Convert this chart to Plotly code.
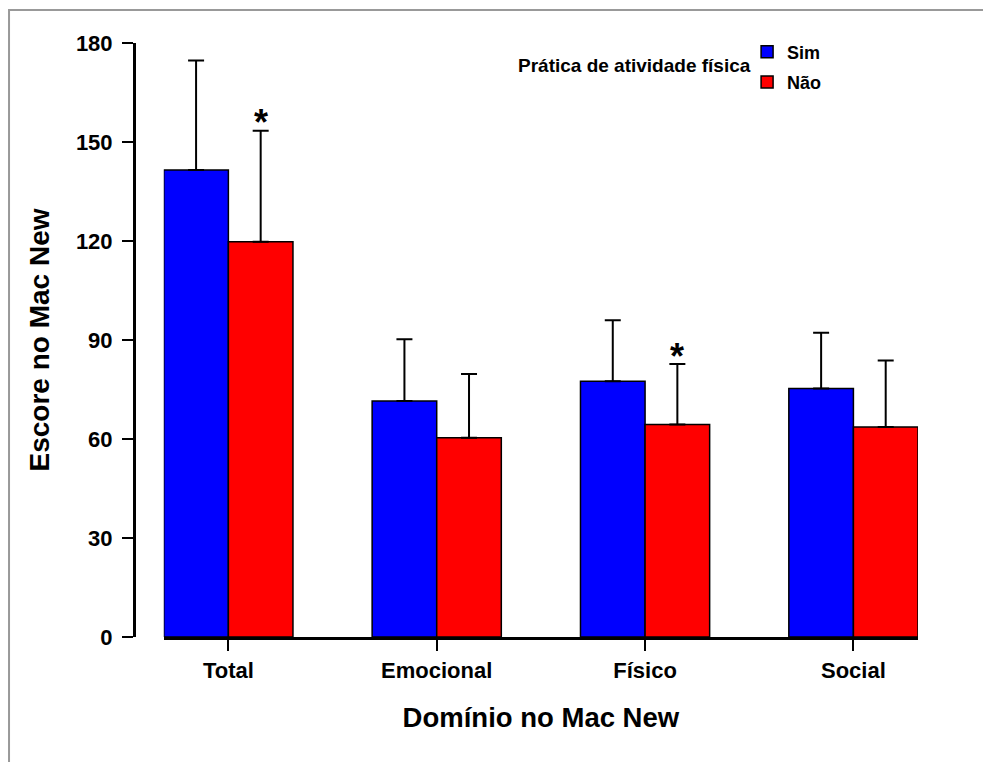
import plotly.graph_objects as go

categories = ["Total", "Emocional", "Físico", "Social"]
sim_values = [141.5, 71.5, 77.5, 75.3]
nao_values = [119.8, 60.4, 64.4, 63.6]
sim_err = [33.2, 18.7, 18.5, 16.9]
nao_err = [33.6, 19.3, 18.3, 20.2]
nao_significant = [True, False, True, False]
y_ticks = [0, 30, 60, 90, 120, 150, 180]

FONT = "Liberation Sans, Arial, sans-serif"

fig = go.Figure()
fig.add_trace(go.Bar(
    name="Sim", x=categories, y=sim_values,
    marker=dict(color="#0000FF", line=dict(color="black", width=1.5)),
    error_y=dict(type="data", array=sim_err, arrayminus=[0] * len(sim_err),
                 symmetric=False, color="black", thickness=2, width=8),
    legendgroup="sim",
))
fig.add_trace(go.Bar(
    name="Não", x=categories, y=nao_values,
    marker=dict(color="#FF0000", line=dict(color="black", width=1.5)),
    error_y=dict(type="data", array=nao_err, arrayminus=[0] * len(nao_err),
                 symmetric=False, color="black", thickness=2, width=8),
    legendgroup="nao",
))

# significance asterisks above the "Não" error bars
for i, sig in enumerate(nao_significant):
    if sig:
        fig.add_annotation(
            x=i + 0.155, y=nao_values[i] + nao_err[i], xref="x", yref="y",
            text="*", showarrow=False, yanchor="middle", yshift=8,
            font=dict(family=FONT, size=36, color="black", weight="bold"),
        )

# legend title placed left of the legend entries
fig.add_annotation(
    x=0.789, y=0.962, xref="paper", yref="paper", xanchor="right", yanchor="middle",
    text="Prática de atividade física", showarrow=False,
    font=dict(family=FONT, size=19, color="black", weight="bold"),
)

# outer frame
fig.add_shape(type="rect", xref="paper", yref="paper",
              x0=-0.1594, y0=-0.5, x1=1.3, y1=1.0556,
              line=dict(color="#999999", width=2), layer="below")

fig.update_layout(
    width=983, height=762,
    margin=dict(l=134, r=65, t=43, b=125, autoexpand=False),
    paper_bgcolor="white", plot_bgcolor="white",
    barmode="group", bargap=0.38, bargroupgap=0,
    font=dict(family=FONT, color="black", size=20, weight="bold"),
    showlegend=True,
    legend=dict(x=0.782, y=1.016, xanchor="left", yanchor="top",
                font=dict(family=FONT, size=18, color="black", weight="bold"),
                bgcolor="rgba(0,0,0,0)", tracegroupgap=4, itemwidth=30),
    xaxis=dict(
        domain=[0.038, 1], range=[-0.31, 3.31], anchor="y",
        showline=True, linecolor="black", linewidth=3,
        ticks="outside", ticklen=11, tickwidth=2, tickcolor="black",
        showgrid=False, zeroline=False,
        tickfont=dict(family=FONT, size=22, color="black", weight="bold"),
        ticklabelstandoff=1,
        title=dict(text="Domínio no Mac New", standoff=26,
                   font=dict(family=FONT, size=27.5, color="black", weight="bold")),
    ),
    yaxis=dict(
        range=[0, 180], tickvals=y_ticks, anchor="free", position=0,
        showline=True, linecolor="black", linewidth=3,
        ticks="outside", ticklen=11, tickwidth=2, tickcolor="black",
        showgrid=False, zeroline=False,
        tickfont=dict(family=FONT, size=22, color="black", weight="bold"),
        ticklabelstandoff=5,
        title=dict(text="Escore no Mac New", standoff=17,
                   font=dict(family=FONT, size=28, color="black", weight="bold")),
    ),
)

fig.write_html("out.html", config={"displayModeBar": False})

# remove the browser's default page margin so the figure sits at (0, 0)
with open("out.html", encoding="utf-8") as f:
    html = f.read()
html = html.replace("<head>", "<head><style>html,body{margin:0;padding:0;overflow:hidden}</style>", 1)
with open("out.html", "w", encoding="utf-8") as f:
    f.write(html)
